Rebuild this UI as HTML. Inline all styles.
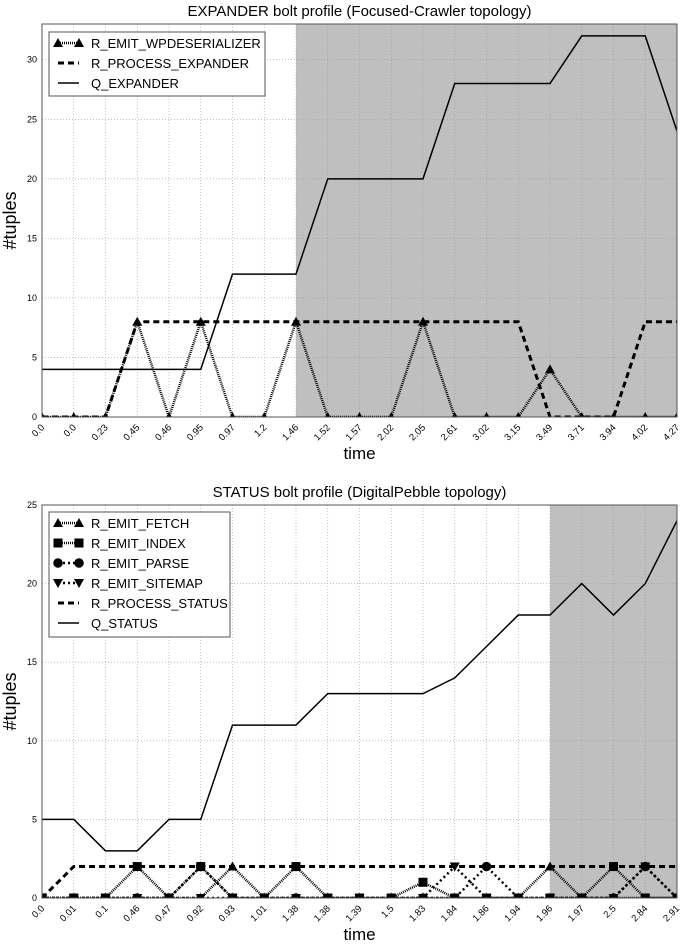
<!DOCTYPE html>
<html><head><meta charset="utf-8"><style>
body{margin:0;background:#fff;font-family:"Liberation Sans",sans-serif}
svg{display:block}
</style></head><body>
<svg id="c" width="685" height="944" xmlns="http://www.w3.org/2000/svg"></svg>
<script>
// ---- Top chart data ----
const topLabels = ["0.0","0.0","0.23","0.45","0.46","0.95","0.97","1.2","1.46","1.52","1.57","2.02","2.05","2.61","3.02","3.15","3.49","3.71","3.94","4.02","4.27"];
const topEmit = [0,0,0,8,0,8,0,0,8,0,0,0,8,0,0,0,4,0,0,0,0];
const topProcess = [0,0,0,8,8,8,8,8,8,8,8,8,8,8,8,8,0,0,0,8,8];
const topQueue = [4,4,4,4,4,4,12,12,12,20,20,20,20,28,28,28,28,32,32,32,24];
const topYTicks = [0,5,10,15,20,25,30];
const topShadeStart = 8;
// ---- Bottom chart data ----
const botLabels = ["0.0","0.01","0.1","0.46","0.47","0.92","0.93","1.01","1.38","1.38","1.39","1.5","1.83","1.84","1.86","1.94","1.96","1.97","2.5","2.84","2.91"];
const botFetch = [0,0,0,0,0,0,2,0,0,0,0,0,0,0,0,0,2,0,0,0,0];
const botIndex = [0,0,0,2,0,2,0,0,2,0,0,0,1,0,0,0,0,0,2,0,0];
const botParse = [0,0,0,0,0,2,0,0,0,0,0,0,0,0,2,0,0,0,0,2,0];
const botSitemap = [0,0,0,0,0,0,0,0,0,0,0,0,0,2,0,0,0,0,0,2,0];
const botProcess = [0,2,2,2,2,2,2,2,2,2,2,2,2,2,2,2,2,2,2,2,2];
const botQueue = [5,5,3,3,5,5,11,11,11,13,13,13,13,14,16,18,18,20,18,20,24];
const botYTicks = [0,5,10,15,20,25];
const botShadeStart = 16;

const NS="http://www.w3.org/2000/svg";
const svg=document.getElementById('c');
function el(tag,attrs,parent){const e=document.createElementNS(NS,tag);for(const k in attrs)e.setAttribute(k,attrs[k]);(parent||svg).appendChild(e);return e;}
function marker(g,type,x,y,s){
  let e;
  if(type==='tri') e=el('polygon',{points:`${x},${y-s} ${x-s},${y+s*0.8} ${x+s},${y+s*0.8}`,fill:'#000'},g);
  else if(type==='tridown') e=el('polygon',{points:`${x},${y+s} ${x-s},${y-s*0.8} ${x+s},${y-s*0.8}`,fill:'#000'},g);
  else if(type==='sq') e=el('rect',{x:x-s*0.9,y:y-s*0.9,width:s*1.8,height:s*1.8,fill:'#000'},g);
  else e=el('circle',{cx:x,cy:y,r:s*0.95,fill:'#000'},g);
  return e;
}
function chart(cfg){
  const {id,L,R,T,B,ymax,labels,yticks,shade,series,title,legend}=cfg;
  const n=labels.length;
  const xs=i=>L+(R-L)*i/(n-1);
  const ys=v=>B-(B-T)*v/ymax;
  const g=el('g',{});
  
  
  const cp=el('clipPath',{id:id+'clip'},g);el('rect',{x:L,y:T,width:R-L,height:B-T},cp);
  const sh=el('rect',{x:xs(shade),y:T,width:R-xs(shade),height:B-T,fill:'#bfbfbf'},g);
  
  
  for(let i=0;i<n;i++){el('line',{x1:xs(i),x2:xs(i),y1:T,y2:B,stroke:'#999','stroke-width':0.6,'stroke-dasharray':'1,2'},g);}
  yticks.forEach(v=>{el('line',{x1:L,x2:R,y1:ys(v),y2:ys(v),stroke:'#999','stroke-width':0.6,'stroke-dasharray':'1,2'},g);
    const t=el('text',{x:L-5,y:ys(v)+3,'text-anchor':'end','font-size':9,fill:'#000'},g);t.textContent=v;
    
    });
  labels.forEach((lb,i)=>{const x=xs(i),y=B+8;
    const t=el('text',{x:x+3,y:y+3,'text-anchor':'end','font-size':9.5,fill:'#000',transform:`rotate(-45 ${x+3} ${y+3})`},g);t.textContent=lb;
    
    });
  const pg=el('g',{'clip-path':`url(#${id}clip)`},g);
  series.forEach(s=>{
    const pts=s.data.map((v,i)=>xs(i)+','+ys(v)).join(' ');
    const pl=el('polyline',{points:pts,fill:'none',stroke:'#000','stroke-width':s.w,'stroke-dasharray':s.dash||'none'},pg);
    
    
    if(s.m) s.data.forEach((v,i)=>{const mk=marker(pg,s.m,xs(i),ys(v),s.ms||5);
      
      });
  });
  const fr=el('rect',{x:L,y:T,width:R-L,height:B-T,fill:'none',stroke:'#555','stroke-width':1},g);
  
  
  const tt=el('text',{x:(L+R)/2,y:T-8,'text-anchor':'middle','font-size':15,fill:'#000'},g);tt.textContent=title;
  
  
  const xl=el('text',{x:(L+R)/2,y:B+42,'text-anchor':'middle','font-size':17,fill:'#000'},g);xl.textContent='time';
  
  
  const yl=el('text',{x:0,y:0,'text-anchor':'middle','font-size':18,fill:'#000',transform:`translate(16 ${(T+B)/2}) rotate(-90)`},g);yl.textContent='#tuples';
  
  
  const lg=el('g',{},g);
  
  
  el('rect',{x:legend.x,y:legend.y,width:legend.w,height:legend.h,fill:'#fff',stroke:'#555','stroke-width':1},lg);
  legend.order.forEach((s,k)=>{
    const yy=legend.y+11+k*20, x0=legend.x+9, x1=legend.x+30;
    const e=el('g',{},lg);
    
    
    el('line',{x1:x0,x2:x1,y1:yy,y2:yy,stroke:'#000','stroke-width':s.w,'stroke-dasharray':s.dash||'none'},e);
    if(s.m){marker(e,s.m,x0,yy,s.ms||5);marker(e,s.m,x1,yy,s.ms||5);}
    const t=el('text',{x:legend.x+42,y:yy+5,'font-size':13,fill:'#000'},e);t.textContent=s.name;
  });
}
const sEmitT={name:'R_EMIT_WPDESERIALIZER',data:topEmit,w:2.5,dash:'1,1',m:'tri',ms:5};
const sProcT={name:'R_PROCESS_EXPANDER',data:topProcess,w:3,dash:'6,4'};
const sQT={name:'Q_EXPANDER',data:topQueue,w:1.5};
chart({id:'expander',L:42,R:677,T:24,B:417,ymax:33,labels:topLabels,yticks:topYTicks,shade:topShadeStart,
  title:'EXPANDER bolt profile (Focused-Crawler topology)',series:[sQT,sEmitT,sProcT],
  legend:{x:49,y:32,w:216,h:64,order:[sEmitT,sProcT,sQT]}});
const bF={name:'R_EMIT_FETCH',data:botFetch,w:2.5,dash:'1,1',m:'tri',ms:5};
const bI={name:'R_EMIT_INDEX',data:botIndex,w:2.5,dash:'1,1',m:'sq',ms:5};
const bP={name:'R_EMIT_PARSE',data:botParse,w:2.5,dash:'2,3',m:'circ',ms:5};
const bS={name:'R_EMIT_SITEMAP',data:botSitemap,w:2.5,dash:'2,3',m:'tridown',ms:5};
const bPr={name:'R_PROCESS_STATUS',data:botProcess,w:3,dash:'6,4'};
const bQ={name:'Q_STATUS',data:botQueue,w:1.5};
chart({id:'status',L:42,R:677,T:505,B:898,ymax:25,labels:botLabels,yticks:botYTicks,shade:botShadeStart,
  title:'STATUS bolt profile (DigitalPebble topology)',series:[bQ,bPr,bF,bI,bP,bS],
  legend:{x:49,y:512,w:181,h:125,order:[bF,bI,bP,bS,bPr,bQ]}});
</script>
</body></html>
